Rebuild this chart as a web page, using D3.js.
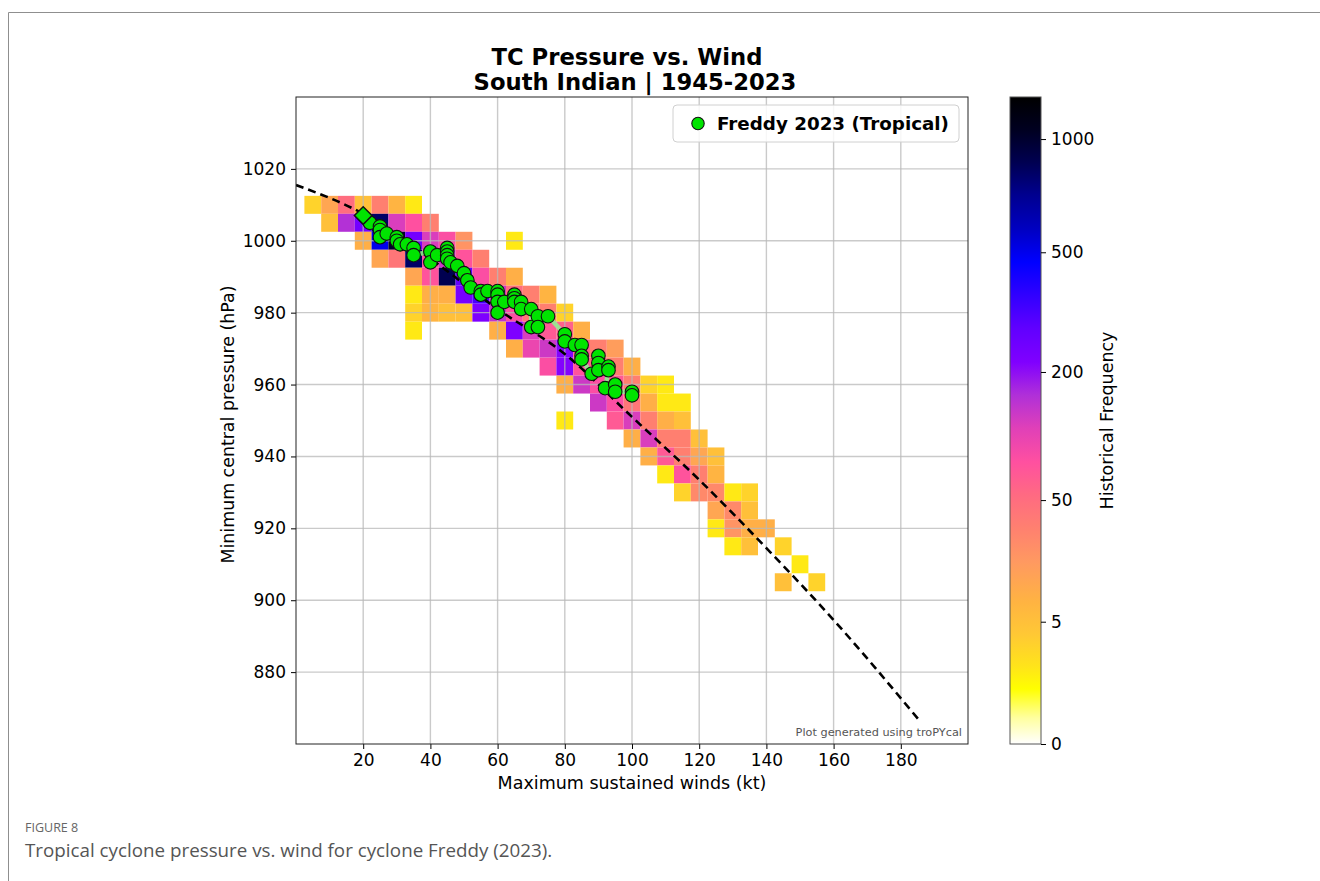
<!DOCTYPE html>
<html>
<head>
<meta charset="utf-8">
<script src="https://cdn.jsdelivr.net/npm/d3@7"></script>
<style>
  html, body { margin: 0; padding: 0; background: #ffffff; }
  svg { display: block; }
</style>
</head>
<body>
<svg id="chart" width="1320" height="881"></svg>
<script>
// ---------------- DATA ----------------
const xTicks = [20, 40, 60, 80, 100, 120, 140, 160, 180];
const yTicks = [880, 900, 920, 940, 960, 980, 1000, 1020];
const cbTicks = [0, 5, 50, 200, 500, 1000];
const cbLevels = [0, 5, 50, 200, 500, 1000, 1186];

// Historical frequency heatmap (5 kt x 5 hPa bins): bin centres and counts
const hmWind = [
  5,10,15,20,25,30,35,
  10,15,20,25,30,35,40,
  20,25,30,35,40,45,50,65,
  25,30,35,40,45,50,55,
  35,40,45,50,55,60,65,
  35,40,45,50,55,60,65,70,75,
  35,40,45,50,55,60,65,70,75,80,
  35,60,65,70,75,80,85,
  65,70,75,80,85,90,95,
  75,80,85,90,95,100,
  80,85,90,95,100,105,110,
  90,95,100,105,110,115,
  80,95,100,105,110,115,
  100,105,110,115,120,
  105,110,115,120,125,
  110,115,120,125,
  115,120,125,130,135,
  125,130,135,
  125,130,135,140,
  130,135,145,
  150,
  145,155
];
const hmPres = [
  1010,1010,1010,1010,1010,1010,1010,
  1005,1005,1005,1005,1005,1005,1005,
  1000,1000,1000,1000,1000,1000,1000,1000,
  995,995,995,995,995,995,995,
  990,990,990,990,990,990,990,
  985,985,985,985,985,985,985,985,985,
  980,980,980,980,980,980,980,980,980,980,
  975,975,975,975,975,975,975,
  970,970,970,970,970,970,970,
  965,965,965,965,965,965,
  960,960,960,960,960,960,960,
  955,955,955,955,955,955,
  950,950,950,950,950,950,
  945,945,945,945,945,
  940,940,940,940,940,
  935,935,935,935,
  930,930,930,930,930,
  925,925,925,
  920,920,920,920,
  915,915,915,
  910,
  905,905
];
const hmCount = [
  4,20,50,5,40,12,3,
  5,170,260,850,140,95,40,
  15,500,1000,260,140,100,30,3,
  20,45,850,100,150,90,40,
  20,90,900,300,100,40,15,
  3,15,15,250,350,150,50,40,12,
  4,12,5,5,230,160,100,45,40,4,
  3,15,230,140,80,70,15,
  15,120,150,220,80,40,25,
  100,220,90,50,40,15,
  15,150,100,80,40,4,3,
  150,100,45,15,3,3,
  3,80,140,40,15,5,
  15,140,40,40,5,
  15,80,40,20,5,
  3,90,40,12,
  4,35,35,3,4,
  20,35,5,
  3,30,15,15,
  3,5,4,
  3,
  5,4
];

// Cyclone Freddy 2023 observations (first point drawn as a diamond)
const freddyWind = [20,22,25,25,25,27,30,30,31,33,35,35,40,40,42,45,45,45,45,46,48,50,51,52,55,55,57,60,60,60,60,62,65,65,65,67,67,70,70,72,72,75,80,80,83,85,85,85,88,90,90,90,93,93,92,95,95,100,100];
const freddyPres = [1007,1005,1004,1003,1001,1002,1001,1000,999,999,998,996,997,994,996,998,997,996,995,994,993,991,989,987,986,985,986,986,985,983,980,983,985,984,983,983,981,981,976,979,976,979,974,972,971,971,968,967,963,968,966,964,965,964,959,960,958,958,957];

// Fitted wind-pressure relationship (dashed curve)
const fitWind = [0, 20, 40, 60, 80, 100, 120, 140, 160, 186];
const fitPres = [1015.5, 1007.5, 995, 981, 968.5, 951, 933.5, 914.5, 894.5, 866];

// Colour map stops (position along colour bar, colour)
const cmapPos = [0,0.04,0.085,0.12,0.17,0.22,0.28,0.334,0.385,0.436,0.488,0.539,0.59,0.643,0.694,0.745,0.797,0.848,0.9,0.95,1.0];
const cmapCol = ["#ffffff","#ffffa0","#ffff00","#ffe41a","#ffc835","#ffb342","#ff9a60","#ff8070","#ff6a82","#ff50a0","#e040b8","#b030d8","#8000ff","#6000ff","#3000ff","#0000ff","#0000c0","#000090","#000050","#000020","#000000"];

// ---------------- DRAW ----------------
const svg = d3.select("#chart");
const L = 296, R = 968, T = 97, B = 744;
const font = "DejaVu Sans, sans-serif";

// figure frame
svg.append("path")
  .attr("d", "M1320,12.5 H8.5 V881")
  .attr("fill", "none").attr("stroke", "#8f8f8f").attr("stroke-width", 1);

const x = d3.scaleLinear().domain([0, 200]).range([L, R]);
const y = d3.scaleLinear().domain([860, 1040]).range([B, T]);

const levelFrac = d3.scaleLinear().domain(cbLevels).range([0, 0.189, 0.377, 0.575, 0.760, 0.935, 1]).clamp(true);
const fracColor = d3.scaleLinear().domain(cmapPos).range(cmapCol).interpolate(d3.interpolateRgb);
const color = v => fracColor(levelFrac(v));

// clip
svg.append("clipPath").attr("id", "clip").append("rect")
  .attr("x", L).attr("y", T).attr("width", R - L).attr("height", B - T);

const plot = svg.append("g").attr("clip-path", "url(#clip)");

// heatmap
const cells = hmWind.map((w, i) => ({ w, p: hmPres[i], c: hmCount[i] }));
plot.append("g").selectAll("rect").data(cells).join("rect")
  .attr("x", d => x(d.w - 2.5))
  .attr("y", d => y(d.p + 2.5))
  .attr("width", d => x(d.w + 2.5) - x(d.w - 2.5))
  .attr("height", d => y(d.p - 2.5) - y(d.p + 2.5))
  .attr("fill", d => color(d.c));

// grid
const grid = plot.append("g").attr("stroke", "#b8b8b8").attr("stroke-opacity", 0.75).attr("stroke-width", 1.4);
xTicks.forEach(t => grid.append("line").attr("x1", x(t)).attr("x2", x(t)).attr("y1", T).attr("y2", B));
yTicks.forEach(t => grid.append("line").attr("y1", y(t)).attr("y2", y(t)).attr("x1", L).attr("x2", R));

// dashed fit line
const fitPts = fitWind.map((w, i) => [w, fitPres[i]]);
plot.append("path").datum(fitPts)
  .attr("d", d3.line().x(d => x(d[0])).y(d => y(d[1])).curve(d3.curveMonotoneX))
  .attr("fill", "none").attr("stroke", "#000").attr("stroke-width", 2.6)
  .attr("stroke-dasharray", "8,5");

// Freddy track
const fr = freddyWind.map((w, i) => [w, freddyPres[i]]);
plot.append("path").datum(fr)
  .attr("d", d3.line().x(d => x(d[0])).y(d => y(d[1])))
  .attr("fill", "none").attr("stroke", "#90ee90").attr("stroke-width", 4.5)
  .attr("stroke-opacity", 0.9).attr("stroke-linejoin", "round");

plot.append("g").selectAll("circle").data(fr.slice(1)).join("circle")
  .attr("cx", d => x(d[0])).attr("cy", d => y(d[1])).attr("r", 6.8)
  .attr("fill", "#00e400").attr("stroke", "#111").attr("stroke-width", 1.1);

plot.append("path")
  .attr("d", d3.symbol(d3.symbolSquare, 155)())
  .attr("transform", `translate(${x(fr[0][0])},${y(fr[0][1])}) rotate(45)`)
  .attr("fill", "#00e400").attr("stroke", "#111").attr("stroke-width", 1.5);

// axes
const xAxis = svg.append("g").attr("transform", `translate(0,${B})`)
  .call(d3.axisBottom(x).tickValues(xTicks).tickSize(5).tickPadding(5).tickFormat(d3.format("d")));
const yAxis = svg.append("g").attr("transform", `translate(${L},0)`)
  .call(d3.axisLeft(y).tickValues(yTicks).tickSize(5).tickPadding(5).tickFormat(d3.format("d")));
[xAxis, yAxis].forEach(a => {
  a.select(".domain").remove();
  a.selectAll("text").attr("font-family", font).attr("font-size", 17).attr("fill", "#000");
  a.selectAll("line").attr("stroke", "#000").attr("stroke-width", 1);
});

// plot frame
svg.append("rect").attr("x", L).attr("y", T).attr("width", R - L).attr("height", B - T)
  .attr("fill", "none").attr("stroke", "#222").attr("stroke-width", 1);

// axis labels
svg.append("text").attr("x", (L + R) / 2).attr("y", 789).attr("text-anchor", "middle")
  .attr("font-family", font).attr("font-size", 17.5).text("Maximum sustained winds (kt)");
svg.append("text").attr("transform", `translate(234,${(T + B) / 2 + 4}) rotate(-90)`)
  .attr("text-anchor", "middle").attr("font-family", font).attr("font-size", 17.4)
  .text("Minimum central pressure (hPa)");

// title
svg.append("text").attr("x", 627).attr("y", 65).attr("text-anchor", "middle")
  .attr("font-family", font).attr("font-weight", "bold").attr("font-size", 22.7).text("TC Pressure vs. Wind");
svg.append("text").attr("x", 635).attr("y", 90).attr("text-anchor", "middle")
  .attr("font-family", font).attr("font-weight", "bold").attr("font-size", 22.7).text("South Indian | 1945-2023");

// legend
const lg = svg.append("g");
lg.append("rect").attr("x", 673).attr("y", 105).attr("width", 286).attr("height", 37).attr("rx", 4)
  .attr("fill", "#fff").attr("fill-opacity", 0.85).attr("stroke", "#d0d0d0");
lg.append("circle").attr("cx", 698).attr("cy", 123.5).attr("r", 6.2)
  .attr("fill", "#00e400").attr("stroke", "#111").attr("stroke-width", 1.1);
lg.append("text").attr("x", 717).attr("y", 130).attr("font-family", font).attr("font-weight", "bold")
  .attr("font-size", 18.3).text("Freddy 2023 (Tropical)");

// credit
svg.append("text").attr("x", 962).attr("y", 736).attr("text-anchor", "end")
  .attr("font-family", font).attr("font-size", 11.3).attr("fill", "#555").text("Plot generated using troPYcal");

// colour bar
const CBL = 1010, CBR = 1041;
const defs = svg.append("defs");
const grad = defs.append("linearGradient").attr("id", "cbgrad")
  .attr("x1", 0).attr("y1", 1).attr("x2", 0).attr("y2", 0);
cmapPos.forEach((p, i) => grad.append("stop").attr("offset", p).attr("stop-color", cmapCol[i]));
svg.append("rect").attr("x", CBL).attr("y", T).attr("width", CBR - CBL).attr("height", B - T)
  .attr("fill", "url(#cbgrad)").attr("stroke", "#555").attr("stroke-width", 1);
const cbScale = d3.scaleLinear().domain(cbLevels)
  .range(levelFrac.range().map(f => B - f * (B - T)));
const cbAxis = svg.append("g").attr("transform", `translate(${CBR},0)`)
  .call(d3.axisRight(cbScale).tickValues(cbTicks).tickSize(5).tickPadding(5).tickFormat(d3.format("d")));
cbAxis.select(".domain").remove();
cbAxis.selectAll("text").attr("font-family", font).attr("font-size", 17).attr("fill", "#000");
cbAxis.selectAll("line").attr("stroke", "#000");
svg.append("text").attr("transform", `translate(1113,${(T + B) / 2}) rotate(-90)`)
  .attr("text-anchor", "middle").attr("font-family", font).attr("font-size", 17.5)
  .text("Historical Frequency");

// caption
svg.append("text").attr("x", 25).attr("y", 832).attr("font-family", "Open Sans, Noto Sans, sans-serif")
  .attr("font-size", 12.5).attr("fill", "#666").text("FIGURE 8");
svg.append("text").attr("x", 25).attr("y", 857).attr("font-family", "Open Sans, Noto Sans, sans-serif")
  .attr("font-size", 18.8).attr("fill", "#555").text("Tropical cyclone pressure vs. wind for cyclone Freddy (2023).");
</script>
</body>
</html>
